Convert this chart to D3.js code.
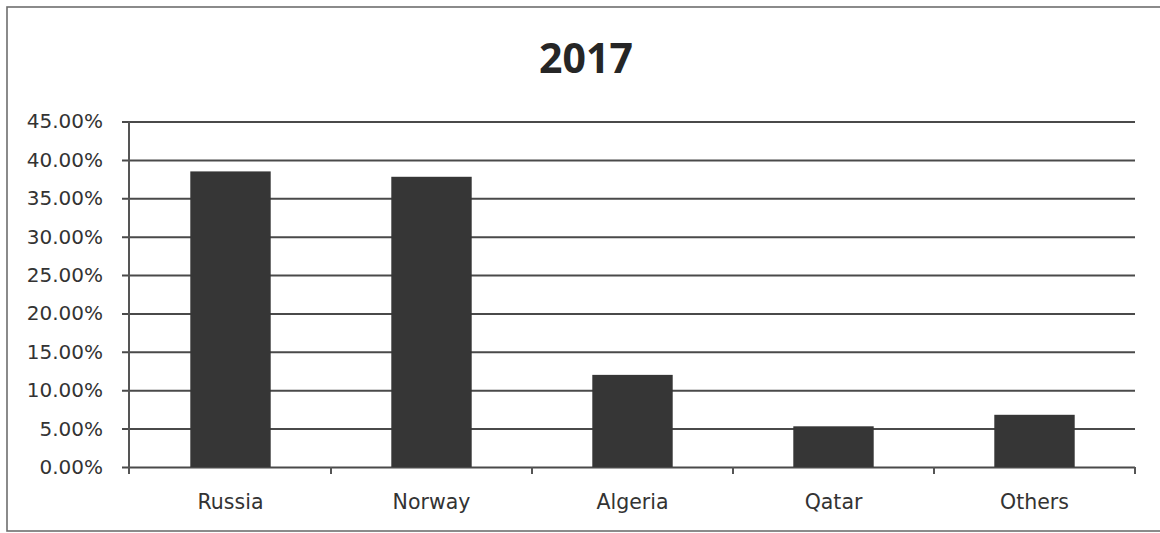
<!DOCTYPE html>
<html>
<head>
<meta charset="utf-8">
<script src="https://cdn.jsdelivr.net/npm/d3@7"></script>
<style>
  html, body { margin: 0; padding: 0; background: #fff; }
  svg { display: block; }
</style>
</head>
<body>
<svg id="chart" width="1160" height="533"></svg>
<script>
// Share of supply by origin, 2017
const title = "2017";
const categories = ["Russia", "Norway", "Algeria", "Qatar", "Others"];
const shares = [0.385, 0.378, 0.120, 0.053, 0.068];
const yTicks = [0, 0.05, 0.10, 0.15, 0.20, 0.25, 0.30, 0.35, 0.40, 0.45];

const svg = d3.select("#chart");
const W = 1160, H = 533;
const plot = { left: 130, right: 1135, top: 121.5, bottom: 467 };

// outer chart frame
svg.append("rect")
  .attr("x", 7).attr("y", 7)
  .attr("width", W + 10).attr("height", H - 9)
  .attr("fill", "#fff")
  .attr("stroke", "#6e6e6e")
  .attr("stroke-width", 1.6);

const x = d3.scaleBand()
  .domain(categories)
  .range([plot.left, plot.right])
  .paddingInner(0.6)
  .paddingOuter(0.3);

const y = d3.scaleLinear()
  .domain([0, 0.45])
  .range([plot.bottom, plot.top]);

// horizontal gridlines with y axis labels
const yAxis = d3.axisLeft(y)
  .tickValues(yTicks)
  .tickFormat(d3.format(".2%"))
  .tickSize(0)
  .tickPadding(0);

const gy = svg.append("g")
  .attr("transform", `translate(${plot.left - 8},0)`)
  .call(yAxis);
gy.select(".domain").remove();
gy.selectAll(".tick line")
  .attr("x1", 0)
  .attr("x2", plot.right - plot.left + 8)
  .attr("stroke", "#4a4a4a")
  .attr("stroke-width", 2);
gy.selectAll(".tick text")
  .attr("x", -19)
  .attr("fill", "#333")
  .style("font-family", "'DejaVu Sans', sans-serif")
  .style("font-size", "20px");

// vertical axis line
svg.append("line")
  .attr("x1", plot.left - 1).attr("x2", plot.left - 1)
  .attr("y1", plot.top).attr("y2", plot.bottom + 7)
  .attr("stroke", "#555")
  .attr("stroke-width", 2);

// bars
svg.append("g")
  .selectAll("rect")
  .data(categories)
  .join("rect")
  .attr("x", d => x(d))
  .attr("width", x.bandwidth())
  .attr("y", (d, i) => y(shares[i]))
  .attr("height", (d, i) => y(0) - y(shares[i]))
  .attr("fill", "#363636");

// category axis
const xAxis = d3.axisBottom(x).tickSize(0).tickPadding(0);
const gx = svg.append("g")
  .attr("transform", `translate(0,${plot.bottom})`)
  .call(xAxis);
gx.select(".domain").remove();
gx.selectAll(".tick text")
  .attr("y", 42)
  .attr("dy", 0)
  .attr("fill", "#333")
  .style("font-family", "'DejaVu Sans', sans-serif")
  .style("font-size", "20.5px");

// tick marks between categories
const boundaries = d3.range(1, categories.length + 1)
  .map(i => plot.left + i * (plot.right - plot.left) / categories.length);
svg.append("g")
  .selectAll("line")
  .data(boundaries)
  .join("line")
  .attr("x1", d => d).attr("x2", d => d)
  .attr("y1", plot.bottom).attr("y2", plot.bottom + 7)
  .attr("stroke", "#555")
  .attr("stroke-width", 2);

// title
svg.append("text")
  .attr("x", 586)
  .attr("y", 73)
  .attr("text-anchor", "middle")
  .attr("fill", "#262626")
  .style("font-family", "'Open Sans', sans-serif")
  .style("font-weight", "700")
  .style("font-size", "41px")
  .text(title);
</script>
</body>
</html>
